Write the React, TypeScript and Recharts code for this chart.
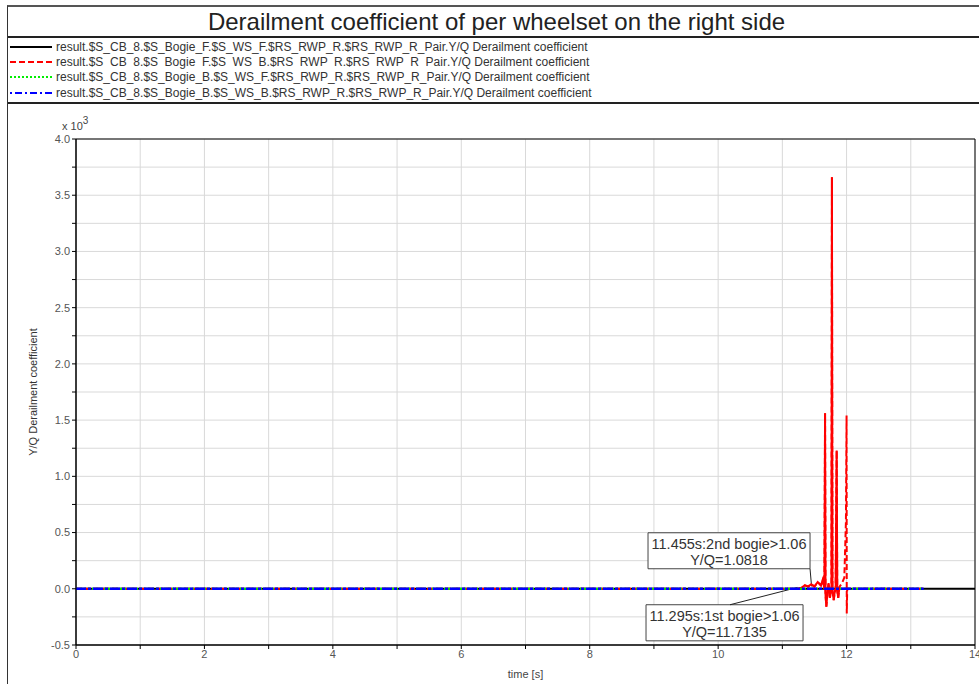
import React from "react";
import { LineChart, Line, XAxis, YAxis, CartesianGrid, ReferenceArea, ReferenceLine } from "recharts";

// series labels (legend)
const seriesNames = [
  "result.$S_CB_8.$S_Bogie_F.$S_WS_F.$RS_RWP_R.$RS_RWP_R_Pair.Y/Q Derailment coefficient",
  "result.$S CB 8.$S Bogie F.$S WS B.$RS RWP R.$RS RWP R Pair.Y/Q Derailment coefficient",
  "result.$S_CB_8.$S_Bogie_B.$S_WS_F.$RS_RWP_R.$RS_RWP_R_Pair.Y/Q Derailment coefficient",
  "result.$S_CB_8.$S_Bogie_B.$S_WS_B.$RS_RWP_R.$RS_RWP_R_Pair.Y/Q Derailment coefficient",
];

// values are in units of 10^3
const blackTime = [0, 13.2, 14];
const blackValues = [0, 0, 0];

const flatTime = [0, 13.2];
const flatValues = [0, 0];

const redTime = [
  0, 11.25, 11.3, 11.35, 11.4, 11.45, 11.5, 11.55, 11.6, 11.63, 11.655, 11.665, 11.672, 11.685,
  11.7, 11.72, 11.74, 11.765, 11.772, 11.78, 11.8, 11.815, 11.83, 11.846, 11.855, 11.87, 11.89,
  11.93, 11.965, 11.99, 12.0, 12.003, 12.01, 12.05, 13.2,
];
const redValues = [
  0, 0, 0.01, 0.03, 0.02, 0.04, 0.02, 0.06, 0.03, 0.08, 0.0, 1.56, -0.05, -0.16,
  -0.05, 0.05, -0.08, 0.0, 3.66, -0.02, -0.1, -0.03, 0.0, 1.23, -0.02, -0.08, 0.02,
  0.05, 0.1, 0.6, 1.54, -0.22, 0.0, 0, 0,
];

const xTicks = [0, 1, 2, 3, 4, 5, 6, 7, 8, 9, 10, 11, 12, 13, 14];
const yTicks = [-0.5, -0.25, 0, 0.25, 0.5, 0.75, 1, 1.25, 1.5, 1.75, 2, 2.25, 2.5, 2.75, 3, 3.25, 3.5, 3.75, 4];

const annotTime = [11.455, 11.295];
const annotValue = [1.0818, 11.7135];
const annotText = [
  ["11.455s:2nd bogie>1.06", "Y/Q=1.0818"],
  ["11.295s:1st bogie>1.06", "Y/Q=11.7135"],
];

const toRows = (t: number[], v: number[]) => t.map((x, i) => ({ t: x, v: v[i] }));
const blackData = toRows(blackTime, blackValues);
const flatData = toRows(flatTime, flatValues);
const redData = toRows(redTime, redValues);
const redSolidData = redData.filter((d) => d.t >= 11.25 && d.t <= 11.9);

const FONT = '"Liberation Sans", Arial, sans-serif';

const YTick = (props: any) => {
  const { x, y, payload } = props;
  const v = payload.value;
  if (Math.abs(v * 2 - Math.round(v * 2)) > 1e-6) return <g />;
  return (
    <text x={x} y={y} dy="0.355em" textAnchor="end" fontSize={11} fill="#555" fontFamily={FONT}>
      {v.toFixed(1)}
    </text>
  );
};

const XTick = (props: any) => {
  const { x, y, payload } = props;
  const v = payload.value;
  if (v % 2 !== 0) return <g />;
  return (
    <text x={x} y={y} dy="0.71em" textAnchor="middle" fontSize={11} fill="#555" fontFamily={FONT}>
      {v}
    </text>
  );
};

const BoxText = ({ viewBox, lines }: any) => {
  const { x, y, width, height } = viewBox;
  const cx = x + width / 2;
  return (
    <g>
      <text x={cx} y={y + height / 2 - 2} textAnchor="middle" fontSize={14.5} fill="#333" fontFamily={FONT}>
        {lines[0]}
      </text>
      <text x={cx} y={y + height / 2 + 14} textAnchor="middle" fontSize={14.5} fill="#333" fontFamily={FONT}>
        {lines[1]}
      </text>
    </g>
  );
};

const legendStyles = [
  { stroke: "#000", dash: undefined },
  { stroke: "#ff0000", dash: "6 3" },
  { stroke: "#00ee00", dash: "2 2" },
  { stroke: "#0000ff", dash: "2 3 7 3" },
];

const LegendText = ({ name, wide }: { name: string; wide: boolean }) => {
  const cut = name.indexOf(".Y/Q");
  return (
    <span style={{ fontSize: 12, color: "#333", whiteSpace: "pre" }}>
      <span style={{ wordSpacing: wide ? 3.3 : 0 }}>{name.slice(0, cut)}</span>
      {name.slice(cut)}
    </span>
  );
};

export default function App() {
  return (
    <div
      style={{
        position: "absolute",
        left: 7,
        top: 5,
        width: 971,
        height: 677,
        borderLeft: "1px solid #333",
        borderTop: "2px solid #555",
        background: "#fff",
        fontFamily: FONT,
      }}
    >
      {/* Title */}
      <div
        style={{
          height: 29,
          lineHeight: "29px",
          borderBottom: "2px solid #222",
          textAlign: "center",
          fontSize: 24,
          color: "#222",
          paddingLeft: 6,
        }}
      >
        Derailment coefficient of per wheelset on the right side
      </div>

      {/* Legend */}
      <div style={{ height: 66, borderBottom: "2px solid #222", paddingTop: 1, boxSizing: "border-box" }}>
        {seriesNames.map((name, i) => (
          <div key={i} style={{ height: 15.4, display: "flex", alignItems: "center" }}>
            <svg width={44} height={6} style={{ marginLeft: 2, marginRight: 2 }}>
              <line
                x1={0}
                y1={3}
                x2={42}
                y2={3}
                stroke={legendStyles[i].stroke}
                strokeWidth={2}
                strokeDasharray={legendStyles[i].dash}
              />
            </svg>
            <LegendText name={name} wide={i === 1} />
          </div>
        ))}
      </div>

      {/* x 10^3 multiplier */}
      <div style={{ position: "absolute", left: 54, top: 109, fontSize: 11, color: "#444", whiteSpace: "nowrap" }}>
        x 10<sup style={{ fontSize: 10, position: "relative", top: -1 }}>3</sup>
      </div>

      <LineChart width={971} height={580} margin={{ top: 35, right: 4, left: 0, bottom: 0 }}>
        <CartesianGrid stroke="#d9d9d9" strokeWidth={1} />
        <XAxis
          dataKey="t"
          type="number"
          domain={[0, 14]}
          ticks={xTicks}
          interval={0}
          height={39}
          tickSize={4}
          tickMargin={1}
          axisLine={{ stroke: "#000" }}
          tickLine={{ stroke: "#000" }}
          tick={<XTick />}
          allowDataOverflow
          label={{ value: "time [s]", position: "insideBottom", offset: 6, fontSize: 11, fill: "#444", fontFamily: FONT }}
        />
        <YAxis
          type="number"
          domain={[-0.5, 4]}
          ticks={yTicks}
          interval={0}
          width={68}
          tickSize={4}
          axisLine={{ stroke: "#000" }}
          tickLine={{ stroke: "#000" }}
          tick={<YTick />}
          allowDataOverflow
          label={{
            value: "Y/Q Derailment coefficient",
            angle: -90,
            position: "insideLeft",
            offset: 25,
            fontSize: 11,
            fill: "#333",
            fontFamily: FONT,
            style: { textAnchor: "middle" },
          }}
        />
        <ReferenceArea x1={0} x2={14} y1={-0.5} y2={4} fill="none" stroke="#000" strokeWidth={1} />

        <ReferenceArea
          x1={8.908}
          x2={11.431}
          y1={0.178}
          y2={0.498}
          fill="#fff"
          fillOpacity={1}
          stroke="#444"
          label={{ content: (p: any) => <BoxText viewBox={p.viewBox} lines={annotText[0]} /> }}
        />
        <ReferenceArea
          x1={8.877}
          x2={11.322}
          y1={-0.463}
          y2={-0.142}
          fill="#fff"
          fillOpacity={1}
          stroke="#444"
          label={{ content: (p: any) => <BoxText viewBox={p.viewBox} lines={annotText[1]} /> }}
        />
        <ReferenceLine
          segment={[
            { x: 11.431, y: 0.178 },
            { x: annotTime[0], y: annotValue[0] / 1000 + 0.02 },
          ]}
          stroke="#222"
        />
        <ReferenceLine
          segment={[
            { x: 10.185, y: -0.142 },
            { x: annotTime[1] - 0.06, y: annotValue[1] / 1000 },
          ]}
          stroke="#222"
        />

        <Line data={blackData} dataKey="v" type="linear" stroke="#000" strokeWidth={2} dot={false} isAnimationActive={false} />
        <Line data={redData} dataKey="v" type="linear" stroke="#ff0000" strokeWidth={2} strokeDasharray="6 3" dot={false} isAnimationActive={false} />
        <Line data={redSolidData} dataKey="v" type="linear" stroke="#ff0000" strokeWidth={2} dot={false} isAnimationActive={false} />
        <Line data={flatData} dataKey="v" type="linear" stroke="#00ee00" strokeWidth={2} strokeDasharray="2 2" dot={false} isAnimationActive={false} />
        <Line data={flatData} dataKey="v" type="linear" stroke="#0000ff" strokeWidth={2.5} strokeDasharray="10 2 3 2" dot={false} isAnimationActive={false} />
      </LineChart>
    </div>
  );
}
